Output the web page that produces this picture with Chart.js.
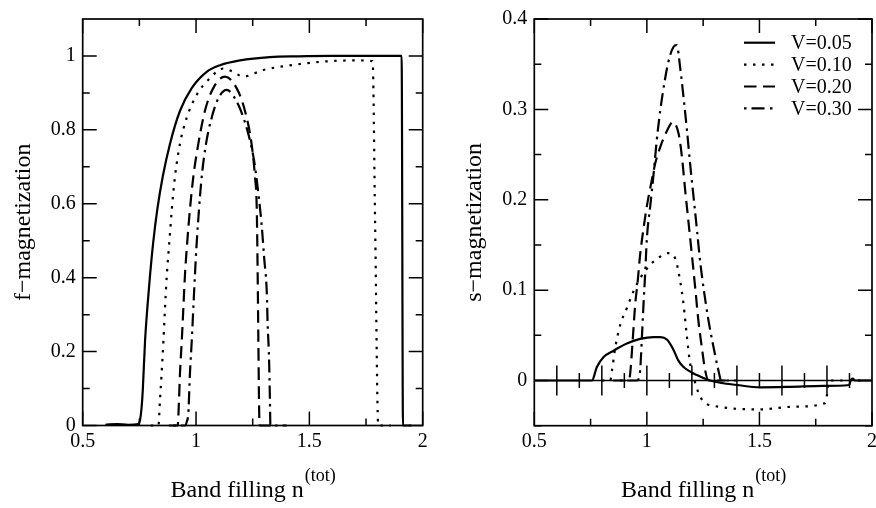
<!DOCTYPE html>
<html lang="en">
<head>
<meta charset="UTF-8">
<title>f- and s-magnetization vs band filling</title>
<script src="https://cdn.jsdelivr.net/npm/chart.js"></script>
<style>
  html, body { margin: 0; padding: 0; background: #fff; overflow: hidden; }
  body { width: 876px; height: 508px; position: relative; }
  .panel { position: absolute; top: 0; height: 508px; }
  #fPanel { left: 0; width: 440px; }
  #sPanel { left: 440px; width: 446px; }
</style>
</head>
<body>
<div class="panel" id="fPanel"><canvas id="fChart" width="440" height="508"></canvas></div>
<div class="panel" id="sPanel"><canvas id="sChart" width="446" height="508"></canvas></div>

<script>
// legend labels
const seriesLabels = ['V=0.05', 'V=0.10', 'V=0.20', 'V=0.30'];

// left panel: f-magnetization
const fV005x = [0.60, 0.65, 0.70, 0.745, 0.753, 0.760, 0.765, 0.775, 0.785, 0.797, 0.811, 0.829, 0.853, 0.885, 0.929, 0.981, 1.047, 1.106, 1.194, 1.326, 1.45, 1.60, 1.75, 1.907, 1.913, 1.95];
const fV005y = [0.002, 0.004, 0.002, 0.004, 0.015, 0.05, 0.095, 0.228, 0.317, 0.406, 0.495, 0.584, 0.673, 0.762, 0.851, 0.913, 0.957, 0.975, 0.988, 0.997, 0.999, 1.0, 1.0, 1.0, 0.0, 0.0];

const fV010x = [0.80, 0.834, 0.841, 0.848, 0.856, 0.863, 0.871, 0.882, 0.893, 0.907, 0.929, 0.959, 1.003, 1.062, 1.120, 1.164, 1.208, 1.297, 1.444, 1.591, 1.70, 1.779, 1.790, 1.804, 1.86];
const fV010y = [0, 0, 0.07, 0.139, 0.228, 0.317, 0.406, 0.495, 0.584, 0.673, 0.762, 0.833, 0.895, 0.94, 0.966, 0.957, 0.944, 0.962, 0.977, 0.986, 0.988, 0.986, 0.55, 0, 0];

const fV020x = [0.88, 0.919, 0.925, 0.929, 0.937, 0.944, 0.951, 0.961, 0.973, 0.988, 1.010, 1.039, 1.076, 1.128, 1.179, 1.216, 1.245, 1.260, 1.268, 1.272, 1.275, 1.279, 1.282, 1.33];
const fV020y = [0, 0, 0.07, 0.139, 0.228, 0.317, 0.406, 0.495, 0.584, 0.673, 0.762, 0.851, 0.913, 0.944, 0.913, 0.851, 0.762, 0.673, 0.584, 0.406, 0.228, 0.023, 0, 0];

const fV030x = [0.90, 0.951, 0.960, 0.966, 0.973, 0.981, 0.988, 0.995, 1.003, 1.013, 1.025, 1.044, 1.069, 1.099, 1.135, 1.179, 1.223, 1.256, 1.275, 1.290, 1.301, 1.312, 1.316, 1.322, 1.326, 1.328, 1.40];
const fV030y = [0, 0, 0.012, 0.033, 0.139, 0.228, 0.317, 0.406, 0.495, 0.584, 0.673, 0.762, 0.833, 0.886, 0.908, 0.877, 0.806, 0.717, 0.628, 0.539, 0.450, 0.362, 0.273, 0.184, 0.068, 0, 0];

// right panel: s-magnetization
const sV005x = [0.5, 0.756, 0.778, 0.808, 0.852, 0.911, 0.970, 1.030, 1.060, 1.090, 1.118, 1.140, 1.163, 1.222, 1.281, 1.340, 1.400, 1.503, 1.636, 1.784, 1.899, 1.905, 1.915, 1.925, 2.0];
const sV005y = [0, 0, 0.015, 0.026, 0.033, 0.041, 0.046, 0.048, 0.048, 0.045, 0.034, 0.022, 0.015, 0.006, 0.0, -0.003, -0.005, -0.0075, -0.007, -0.006, -0.005, 0.0, 0.002, 0.0, 0.0];

const sV010x = [0.80, 0.837, 0.845, 0.860, 0.882, 0.911, 0.941, 0.970, 1.015, 1.059, 1.096, 1.126, 1.148, 1.163, 1.178, 1.192, 1.215, 1.237, 1.266, 1.296, 1.385, 1.503, 1.651, 1.792, 1.800, 1.81, 1.95];
const sV010y = [0, 0, 0.011, 0.037, 0.062, 0.080, 0.099, 0.113, 0.128, 0.137, 0.141, 0.135, 0.110, 0.084, 0.048, 0.019, -0.003, -0.018, -0.026, -0.028, -0.031, -0.032, -0.029, -0.025, -0.016, 0, 0];

const sV020x = [0.85, 0.919, 0.926, 0.938, 0.948, 0.959, 0.970, 0.985, 1.000, 1.019, 1.037, 1.059, 1.089, 1.116, 1.141, 1.156, 1.170, 1.185, 1.200, 1.215, 1.229, 1.244, 1.259, 1.274, 1.35];
const sV020y = [0, 0, 0.008, 0.048, 0.084, 0.109, 0.139, 0.168, 0.193, 0.218, 0.240, 0.258, 0.276, 0.286, 0.273, 0.247, 0.211, 0.175, 0.139, 0.102, 0.066, 0.037, 0.011, 0, 0];

const sV030x = [0.88, 0.956, 0.970, 0.978, 0.985, 0.993, 1.000, 1.015, 1.030, 1.044, 1.059, 1.077, 1.096, 1.118, 1.133, 1.148, 1.163, 1.178, 1.192, 1.207, 1.222, 1.237, 1.252, 1.274, 1.296, 1.318, 1.33, 1.40];
const sV030y = [0, 0, 0.011, 0.048, 0.084, 0.121, 0.157, 0.193, 0.229, 0.266, 0.298, 0.328, 0.353, 0.369, 0.371, 0.346, 0.313, 0.277, 0.240, 0.204, 0.168, 0.131, 0.102, 0.066, 0.037, 0.011, 0, 0];

// ticks
const xTickVals = [0.5, 1, 1.5, 2];
const xTickLabels = ['0.5', '1', '1.5', '2'];
const xMinorVals = [0.75, 1.25, 1.75];
const fTickVals = [0, 0.2, 0.4, 0.6, 0.8, 1];
const fTickLabels = ['0', '0.2', '0.4', '0.6', '0.8', '1'];
const fMinorVals = [0.1, 0.3, 0.5, 0.7, 0.9];
const sTickVals = [0, 0.1, 0.2, 0.3, 0.4];
const sTickLabels = ['0', '0.1', '0.2', '0.3', '0.4'];
const sMinorVals = [-0.05, 0.05, 0.15, 0.25, 0.35];
const zeroMajorVals = [0.6, 0.8, 1.0, 1.2, 1.4, 1.6, 1.8];
const zeroMinorVals = [0.7, 0.9, 1.1, 1.3, 1.5, 1.7, 1.9];

const lineDashes = [[], [2.5, 6.5], [12.5, 6.5], [2.5, 5, 13, 5.5]];
const SERIF = "'Liberation Serif', 'Times New Roman', serif";

Chart.defaults.font.family = SERIF;
Chart.defaults.color = '#000';

function pts(xs, ys) {
    return xs.map((x, i) => ({ x: x, y: ys[i] }));
}

function makeDatasets(list) {
    return list.map((d, i) => ({
        label: seriesLabels[i],
        data: pts(d[0], d[1]),
        borderColor: '#000',
        borderWidth: 2.2,
        borderDash: lineDashes[i],
        pointRadius: 0,
        fill: false,
        clip: false,
        cubicInterpolationMode: 'monotone'
    }));
}

// frame, inward ticks, zero axis, titles and legend (xmgrace look)
const framePlugin = {
    id: 'frame',
    afterDraw(chart, args, o) {
        const ctx = chart.ctx;
        const a = chart.chartArea;
        const x = chart.scales.x, y = chart.scales.y;
        ctx.save();
        ctx.strokeStyle = '#000';
        ctx.lineWidth = 1.7;
        ctx.setLineDash([]);
        ctx.strokeRect(a.left, a.top, a.right - a.left, a.bottom - a.top);

        ctx.lineWidth = 1.5;
        ctx.beginPath();
        const vTick = (v, len) => {
            const px = x.getPixelForValue(v);
            ctx.moveTo(px, a.bottom); ctx.lineTo(px, a.bottom - len);
            ctx.moveTo(px, a.top); ctx.lineTo(px, a.top + len);
        };
        const hTick = (v, len) => {
            const py = y.getPixelForValue(v);
            ctx.moveTo(a.left, py); ctx.lineTo(a.left + len, py);
            ctx.moveTo(a.right, py); ctx.lineTo(a.right - len, py);
        };
        xTickVals.forEach(v => vTick(v, 14));
        xMinorVals.forEach(v => vTick(v, 7));
        o.yMajor.forEach(v => hTick(v, 14));
        o.yMinor.forEach(v => hTick(v, 7));
        ctx.stroke();

        if (o.zeroAxis) {
            const y0 = y.getPixelForValue(0);
            ctx.beginPath();
            ctx.moveTo(a.left, y0); ctx.lineTo(a.right, y0);
            zeroMajorVals.forEach(v => {
                const px = x.getPixelForValue(v);
                ctx.moveTo(px, y0 - 15); ctx.lineTo(px, y0 + 15);
            });
            zeroMinorVals.forEach(v => {
                const px = x.getPixelForValue(v);
                ctx.moveTo(px, y0 - 7.5); ctx.lineTo(px, y0 + 7.5);
            });
            ctx.stroke();
        }

        // axis titles
        ctx.fillStyle = '#000';
        ctx.font = '24px ' + SERIF;
        ctx.textBaseline = 'middle';
        ctx.textAlign = 'center';
        ctx.save();
        ctx.translate(o.yTitleX, (a.top + a.bottom) / 2);
        ctx.rotate(-Math.PI / 2);
        ctx.fillText(o.yTitle, 0, 0);
        ctx.restore();

        const main = 'Band filling n', sup = '(tot)';
        ctx.textAlign = 'left';
        ctx.textBaseline = 'alphabetic';
        ctx.font = '24px ' + SERIF;
        const w1 = ctx.measureText(main).width;
        ctx.font = '18px ' + SERIF;
        const w2 = ctx.measureText(sup).width;
        const x0 = (a.left + a.right) / 2 - (w1 + w2) / 2;
        ctx.font = '24px ' + SERIF;
        ctx.fillText(main, x0, 496.5);
        ctx.font = '18px ' + SERIF;
        ctx.fillText(sup, x0 + w1 + 1, 481);

        if (o.legend) {
            ctx.font = '20px ' + SERIF;
            ctx.textBaseline = 'middle';
            chart.data.datasets.forEach((ds, i) => {
                const ly = o.legend.y0 + i * o.legend.step;
                ctx.beginPath();
                ctx.lineWidth = 2.2;
                ctx.setLineDash(ds.borderDash);
                ctx.moveTo(o.legend.x0, ly);
                ctx.lineTo(o.legend.x1, ly);
                ctx.stroke();
                ctx.setLineDash([]);
                ctx.fillText(ds.label, o.legend.textX, ly + 1);
            });
        }
        ctx.restore();
    }
};

function buildChart(id, cfg) {
    return new Chart(document.getElementById(id), {
        type: 'line',
        data: { datasets: cfg.datasets },
        options: {
            responsive: false,
            animation: false,
            events: [],
            layout: { padding: cfg.padding },
            plugins: {
                legend: { display: false },
                tooltip: { enabled: false },
                frame: cfg.frame
            },
            scales: {
                x: {
                    type: 'linear', min: 0.5, max: 2,
                    grid: { display: false, drawTicks: false },
                    border: { display: false },
                    afterBuildTicks: s => { s.ticks = xTickVals.map(v => ({ value: v })); },
                    afterFit: s => { s.height = cfg.xHeight; },
                    ticks: {
                        padding: 4, autoSkip: false, maxRotation: 0,
                        font: { size: 20 }, color: '#000',
                        callback: (v, i) => xTickLabels[i]
                    }
                },
                y: {
                    type: 'linear', min: cfg.yMin, max: cfg.yMax,
                    grid: { display: false, drawTicks: false },
                    border: { display: false },
                    afterBuildTicks: s => { s.ticks = cfg.yTicks.map(v => ({ value: v })); },
                    afterFit: s => { s.width = cfg.yWidth; },
                    ticks: {
                        padding: 7, autoSkip: false,
                        font: { size: 20 }, color: '#000',
                        callback: (v, i) => cfg.yLabels[i]
                    }
                }
            }
        },
        plugins: [framePlugin]
    });
}

buildChart('fChart', {
    datasets: makeDatasets([[fV005x, fV005y], [fV010x, fV010y], [fV020x, fV020y], [fV030x, fV030y]]),
    padding: { left: 0, top: 13.3, right: 17.3, bottom: 0 },
    yWidth: 82.7, xHeight: 82.5,
    yMin: 0, yMax: 1.1,
    yTicks: fTickVals, yLabels: fTickLabels,
    frame: { yMajor: fTickVals, yMinor: fMinorVals, zeroAxis: false, yTitle: 'f\u2212magnetization', yTitleX: 24, legend: null }
});

buildChart('sChart', {
    datasets: makeDatasets([[sV005x, sV005y], [sV010x, sV010y], [sV020x, sV020y], [sV030x, sV030y]]),
    padding: { left: 0, top: 13.3, right: 14, bottom: 0 },
    yWidth: 94.3, xHeight: 82.3,
    yMin: -0.05, yMax: 0.4,
    yTicks: sTickVals, yLabels: sTickLabels,
    frame: {
        yMajor: sTickVals, yMinor: sMinorVals, zeroAxis: true,
        yTitle: 's\u2212magnetization', yTitleX: 35,
        legend: { x0: 304, x1: 335, textX: 351, y0: 42.7, step: 21.9 }
    }
});
</script>
</body>
</html>
